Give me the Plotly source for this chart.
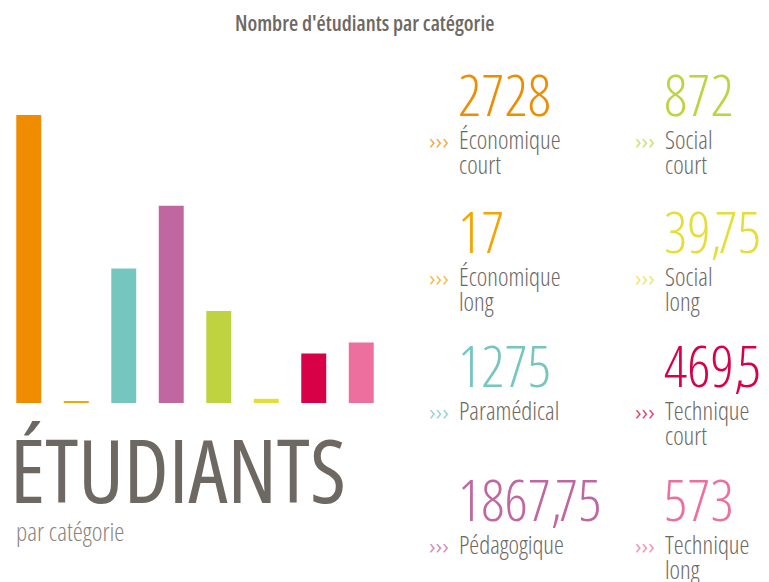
import plotly.graph_objects as go

# données
categories = ["Économique court", "Économique long", "Paramédical", "Pédagogique",
              "Social court", "Social long", "Technique court", "Technique long"]
valeurs = [2728, 17, 1275, 1867.75, 872, 39.75, 469.5, 573]
couleurs = ["#F08C00", "#F5A500", "#76C6C0", "#C067A2",
            "#BFD340", "#E6DE38", "#D80046", "#EC6F9E"]

# la page ajoute une marge de 8px autour du graphique
OFF = 8
W, H = 769 - OFF, 582 - OFF
FONT = "Open Sans"
GRIS = "#6e6863"


def py(y):
    # pixel de la page -> coordonnée papier
    return 1 - (y - OFF) / H


def px(x):
    return (x - OFF) / W


def cond(txt, poids=400, largeur="condensed", extra=""):
    return f'<span style="font-stretch:{largeur};font-weight:{poids}{extra}">{txt}</span>'


def note(txt, x, y, taille, couleur, poids=400, xanchor="left", largeur="condensed", brut=False):
    return dict(text=txt if brut else cond(txt, poids, largeur), x=px(x), y=py(y),
                xref="paper", yref="paper",
                xanchor=xanchor, yanchor="middle", showarrow=False,
                font=dict(family=FONT, size=taille, color=couleur))


def nombre(val):
    # virgule décimale à la française, resserrée
    entier, _, dec = f"{val:g}".partition(".")
    if not dec:
        return cond(entier, 300)
    return (cond(entier, 300) + cond(",", 300, extra=";letter-spacing:-7px")
            + cond(dec, 300))


def clair(hexa, a=0.75):
    r, g, b = int(hexa[1:3], 16), int(hexa[3:5], 16), int(hexa[5:7], 16)
    return f"rgba({r},{g},{b},{a})"


fig = go.Figure()
fig.add_trace(go.Bar(x=categories, y=valeurs, marker_color=couleurs,
                     marker_line_width=0, hoverinfo="x+y"))

annotations = [
    note("Nombre d'étudiants par catégorie", 364, 23, 21, GRIS, 600, xanchor="center"),
    note("ÉTUDIANTS", 8, 469, 88, GRIS, 500),
    note("par catégorie", 14, 531, 25.5, "#8a8480", 350),
]

# blocs de chiffres à droite
col_x = [459, 665]
row_y = [97, 234, 368, 502]
for i, (cat, val, coul) in enumerate(zip(categories, valeurs, couleurs)):
    cx = col_x[i // 4]
    cy = row_y[i % 4]
    annotations.append(note(nombre(val), cx - 3, cy - 3, 57, coul, brut=True))
    annotations.append(note("›››", cx - 32, cy + 43, 22, clair(coul), 400, largeur="normal"))
    for k, ligne in enumerate(cat.split(" ")):
        annotations.append(note(ligne, cx - 2, cy + 42 + 25 * k, 25, GRIS, 350))

# les barres commencent à x=5 dans la page, soit 3px avant le bord du graphique
pas = (385 - 5) / len(categories)
fig.update_layout(
    width=W, height=H,
    margin=dict(l=0, r=0, t=0, b=0),
    paper_bgcolor="white", plot_bgcolor="white",
    bargap=0.475,
    showlegend=False,
    xaxis=dict(domain=[0, px(385)], range=[-0.5 + 3 / pas, len(categories) - 0.5], visible=False),
    yaxis=dict(domain=[py(403), py(115)], range=[0, 2728], visible=False),
    annotations=annotations,
)

fig.write_html("out.html")
